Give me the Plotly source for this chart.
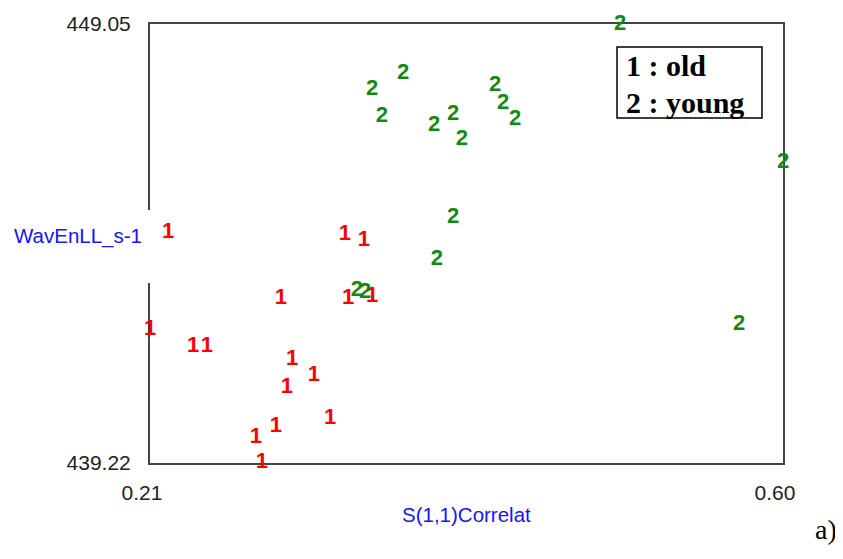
import plotly.graph_objects as go

# --- data ---
old_x = [0.2211, 0.3301, 0.3418, 0.2907, 0.3320, 0.3468, 0.2100, 0.2365,
         0.2451, 0.2975, 0.3110, 0.2944, 0.3209, 0.2876, 0.2753, 0.2790]
old_y = [444.39, 444.33, 444.21, 442.91, 442.91, 442.94, 442.20, 441.82,
         441.82, 441.53, 441.17, 440.90, 440.21, 440.03, 439.78, 439.24]

young_x = [0.4996, 0.6000, 0.3659, 0.3468, 0.3529, 0.3850, 0.3967, 0.4022,
           0.4226, 0.4275, 0.4349, 0.3967, 0.3868, 0.3375, 0.3425, 0.5729]
young_y = [449.05, 445.96, 447.95, 447.59, 446.99, 446.77, 447.03, 446.47,
           447.68, 447.28, 446.92, 444.71, 443.77, 443.09, 443.03, 442.33]

x_range = [0.21, 0.60]
y_range = [439.22, 449.05]
x_ticks = ["0.21", "0.60"]
y_ticks = ["439.22", "449.05"]
x_title = "S(1,1)Correlat"
y_title = "WavEnLL_s-1"
legend_lines = ["1 : old", "2 : young"]
panel_label = "a)"

fig = go.Figure()
fig.add_trace(go.Scatter(
    x=old_x, y=old_y, mode="text", text=["1"] * len(old_x), name="old",
    textfont=dict(family="Liberation Sans", size=22, color="#ff0000", weight="bold"),
    textposition="middle center", cliponaxis=False, showlegend=False))
fig.add_trace(go.Scatter(
    x=young_x, y=young_y, mode="text", text=["2"] * len(young_x), name="young",
    textfont=dict(family="Liberation Sans", size=22, color="#108a10", weight="bold"),
    textposition="middle center", cliponaxis=False, showlegend=False))

axis_common = dict(showgrid=False, zeroline=False, showline=True, mirror=True,
                   linecolor="#444444", linewidth=2, ticks="", layer="below traces",
                   automargin=False,
                   tickfont=dict(family="Liberation Sans", size=21, color="#222222"))

# the page adds an 8px body margin, so the figure is 8px smaller and offsets are reduced
fig.update_layout(
    width=835, height=551,
    margin=dict(l=142, r=60, t=16, b=96),
    paper_bgcolor="white", plot_bgcolor="white",
    xaxis=dict(range=x_range, tickvals=x_range, ticktext=x_ticks,
               ticklabelstandoff=10, ticklabelshift=-8, **axis_common),
    yaxis=dict(range=y_range, tickvals=y_range, ticktext=y_ticks,
               ticklabelstandoff=13, **axis_common),
)

# white box behind the y-axis label (covers the axis line)
fig.add_shape(type="rect", xref="paper", yref="paper",
              x0=-0.1738, x1=0.019, y0=0.410, y1=0.5763,
              fillcolor="white", line=dict(width=0), layer="above")

fig.add_annotation(xref="paper", yref="paper", x=-0.1137, y=0.517,
                   text=y_title, showarrow=False, xanchor="center", yanchor="middle",
                   font=dict(family="Liberation Sans", size=20.5, color="#1414ff"))
fig.add_annotation(xref="paper", yref="paper", x=0.5, y=-0.118,
                   text=x_title, showarrow=False, xanchor="center", yanchor="middle",
                   font=dict(family="Liberation Sans", size=20.5, color="#1414ff"))

# legend box
fig.add_shape(type="rect", xref="paper", yref="paper",
              x0=0.7378, x1=0.9668, y0=0.7859, y1=0.9476,
              fillcolor="white", line=dict(color="black", width=1.5), layer="above")
for line_text, py in zip(legend_lines, [0.9066, 0.8223]):
    fig.add_annotation(xref="paper", yref="paper", x=0.749, y=py,
                       text=line_text, showarrow=False,
                       xanchor="left", yanchor="middle", align="left",
                       font=dict(family="Liberation Serif", size=30, color="black", weight="bold"))

fig.add_annotation(xref="paper", yref="paper", x=1.068, y=-0.1526,
                   text=panel_label, showarrow=False, xanchor="center", yanchor="middle",
                   font=dict(family="Liberation Serif", size=28, color="black"))

fig.write_html("out.html")
